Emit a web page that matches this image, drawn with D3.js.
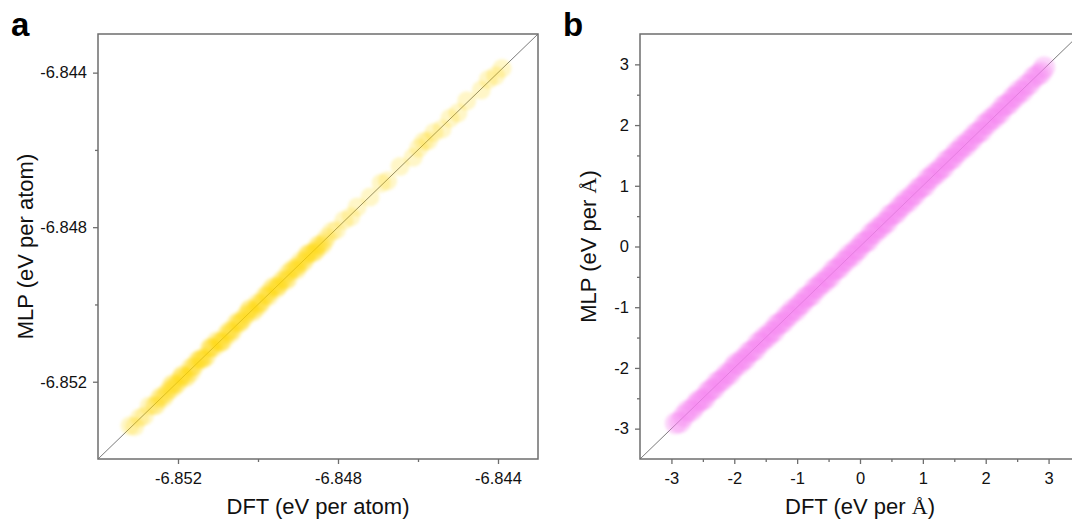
<!DOCTYPE html>
<html>
<head>
<meta charset="utf-8">
<script src="https://cdn.jsdelivr.net/npm/d3@7"></script>
<style>
  body { margin: 0; background: #fff; }
  svg { display: block; font-family: Arial, "Liberation Sans", sans-serif; }
</style>
</head>
<body>
<div id="chart"></div>
<script>
// panel a : energies (eV per atom)
let dftA = [-6.85320, -6.85308, -6.85296, -6.85284, -6.85272, -6.85260, -6.85248, -6.85236, -6.85224, -6.85212,
    -6.85200, -6.85188, -6.85176, -6.85164, -6.85152, -6.85140, -6.85128, -6.85116, -6.85104, -6.85092,
    -6.85080, -6.85068, -6.85056, -6.85044, -6.85032, -6.85020, -6.85008, -6.84996, -6.84984, -6.84972,
    -6.84960, -6.84948, -6.84936, -6.84924, -6.84912, -6.84900, -6.84888, -6.84876, -6.84864, -6.84852,
    -6.84840, -6.84828, -6.84816, -6.84804,
    -6.85214, -6.85190, -6.85166, -6.85142, -6.85118, -6.85094, -6.85070, -6.85046, -6.85022, -6.84998,
    -6.84974, -6.84950, -6.84926, -6.84902, -6.84878, -6.84854,
    -6.85254, -6.85242, -6.85230, -6.85218, -6.85206, -6.85194, -6.85182, -6.85170, -6.85158, -6.85146,
    -6.85134, -6.85122, -6.85110, -6.85098, -6.85086, -6.85074, -6.85062, -6.85050, -6.85038, -6.85026,
    -6.85014, -6.85002, -6.84990, -6.84978, -6.84966, -6.84954, -6.84942, -6.84930, -6.84918, -6.84906,
    -6.84894, -6.84882, -6.84870, -6.84858, -6.84846, -6.84834,
    -6.84785, -6.84768, -6.84752, -6.84720, -6.84692, -6.84676, -6.84645, -6.84612, -6.84598, -6.84586,
    -6.84574, -6.84560, -6.84540, -6.84520, -6.84500, -6.84478, -6.84442, -6.84424, -6.84406, -6.84390];
let mlpA = [-6.85314, -6.85316, -6.85293, -6.85289, -6.85263, -6.85262, -6.85244, -6.85243, -6.85223, -6.85204,
    -6.85204, -6.85183, -6.85185, -6.85162, -6.85145, -6.85143, -6.85134, -6.85112, -6.85094, -6.85097,
    -6.85079, -6.85076, -6.85050, -6.85046, -6.85029, -6.85011, -6.85014, -6.84997, -6.84979, -6.84979,
    -6.84952, -6.84952, -6.84934, -6.84933, -6.84906, -6.84899, -6.84893, -6.84869, -6.84867, -6.84848,
    -6.84848, -6.84826, -6.84811, -6.84807,
    -6.85218, -6.85183, -6.85175, -6.85139, -6.85110, -6.85100, -6.85068, -6.85049, -6.85013, -6.85005,
    -6.84969, -6.84952, -6.84920, -6.84910, -6.84874, -6.84859,
    -6.85261, -6.85237, -6.85232, -6.85210, -6.85210, -6.85191, -6.85191, -6.85164, -6.85159, -6.85142,
    -6.85140, -6.85113, -6.85113, -6.85096, -6.85094, -6.85069, -6.85067, -6.85043, -6.85040, -6.85023,
    -6.85021, -6.84996, -6.84994, -6.84977, -6.84958, -6.84960, -6.84939, -6.84939, -6.84913, -6.84907,
    -6.84887, -6.84885, -6.84866, -6.84864, -6.84844, -6.84838,
    -6.84782, -6.84773, -6.84748, -6.84722, -6.84686, -6.84680, -6.84643, -6.84619, -6.84595, -6.84578,
    -6.84576, -6.84555, -6.84546, -6.84518, -6.84504, -6.84473, -6.84445, -6.84418, -6.84408, -6.84389];

// panel b : forces (eV per A)
let dftB = [-2.93, -2.86, -2.8, -2.74, -2.68, -2.62, -2.57, -2.52, -2.47, -2.42, -2.37, -2.32, -2.27, -2.22, -2.17,
    -2.12, -2.07, -2.02, -1.97, -1.92, -1.87, -1.82, -1.77, -1.72, -1.67, -1.62, -1.57, -1.52, -1.47, -1.42,
    -1.37, -1.32, -1.27, -1.22, -1.17, -1.12, -1.07, -1.02, -0.97, -0.92, -0.87, -0.82, -0.77, -0.72, -0.67,
    -0.62, -0.57, -0.52, -0.47, -0.42, -0.37, -0.32, -0.27, -0.22, -0.17, -0.12, -0.07, -0.02, 0.03, 0.08,
    0.13, 0.18, 0.23, 0.28, 0.33, 0.38, 0.43, 0.48, 0.53, 0.58, 0.63, 0.68, 0.73, 0.78, 0.83,
    0.88, 0.93, 0.98, 1.03, 1.08, 1.13, 1.18, 1.23, 1.28, 1.33, 1.38, 1.43, 1.48, 1.53, 1.58,
    1.63, 1.68, 1.73, 1.78, 1.83, 1.88, 1.93, 1.98, 2.03, 2.08, 2.13, 2.18, 2.23, 2.28, 2.33,
    2.38, 2.43, 2.48, 2.53, 2.58, 2.64, 2.7, 2.76, 2.82, 2.88, 2.93];
let mlpB = [-2.91, -2.89, -2.79, -2.71, -2.7, -2.62, -2.55, -2.53, -2.5, -2.4, -2.36, -2.34, -2.24, -2.22, -2.18,
    -2.1, -2.1, -2.01, -1.93, -1.94, -1.86, -1.85, -1.75, -1.72, -1.7, -1.59, -1.58, -1.5, -1.49, -1.41,
    -1.4, -1.29, -1.27, -1.24, -1.15, -1.13, -1.04, -1.05, -0.96, -0.94, -0.85, -0.82, -0.8, -0.69, -0.68,
    -0.6, -0.59, -0.51, -0.5, -0.39, -0.37, -0.34, -0.25, -0.23, -0.14, -0.15, -0.06, -0.04, 0.05, 0.08,
    0.1, 0.21, 0.22, 0.3, 0.31, 0.39, 0.4, 0.51, 0.53, 0.56, 0.65, 0.67, 0.76, 0.75, 0.84,
    0.86, 0.95, 0.98, 1.0, 1.11, 1.12, 1.2, 1.21, 1.29, 1.3, 1.41, 1.43, 1.46, 1.55, 1.57,
    1.66, 1.65, 1.74, 1.76, 1.85, 1.88, 1.9, 2.01, 2.02, 2.1, 2.11, 2.19, 2.2, 2.31, 2.33,
    2.36, 2.45, 2.47, 2.56, 2.55, 2.65, 2.68, 2.78, 2.82, 2.86, 2.95];

let domainA = [-6.854, -6.843];
let majorA = [-6.852, -6.848, -6.844];
let minorA = [-6.850, -6.846];
let domainB = [-3.5, 3.5];
let majorB = [-3, -2, -1, 0, 1, 2, 3];
let minorB = [-2.5, -1.5, -0.5, 0.5, 1.5, 2.5];

let width = 1072;
let height = 525;
let svg = d3.select("#chart")
    .append("svg")
    .attr("width", width)
    .attr("height", height);

let defs = svg.append("defs");
defs.append("filter")
    .attr("id", "soft")
    .attr("x", "-20%").attr("y", "-20%")
    .attr("width", "140%").attr("height", "140%")
    .append("feGaussianBlur")
    .attr("stdDeviation", 1.4);

function drawPanel(opt) {
    let left = opt.left, top = 34, w = 440, h = 425;
    let x = d3.scaleLinear().domain(opt.domain).range([left, left + w]);
    let y = d3.scaleLinear().domain(opt.domain).range([top + h, top]);
    let g = svg.append("g");

    g.append("clipPath").attr("id", opt.id + "-clip")
        .append("rect")
        .attr("x", left).attr("y", top)
        .attr("width", w).attr("height", h);

    let plot = g.append("g").attr("clip-path", "url(#" + opt.id + "-clip)");

    // y = x reference line, under the points
    plot.append("line")
        .attr("x1", x(opt.domain[0])).attr("y1", y(opt.domain[0]))
        .attr("x2", x(opt.domain[1])).attr("y2", y(opt.domain[1]))
        .attr("stroke", "#7a7a7a")
        .attr("stroke-width", 1);

    plot.append("g")
        .attr("filter", "url(#soft)")
        .selectAll("circle")
        .data(opt.xs.map((d, i) => [d, opt.ys[i]]))
        .enter()
        .append("circle")
        .attr("cx", d => x(d[0]))
        .attr("cy", d => y(d[1]))
        .attr("r", opt.r)
        .attr("fill", opt.color)
        .attr("fill-opacity", opt.opacity);

    // frame
    g.append("rect")
        .attr("x", left).attr("y", top)
        .attr("width", w).attr("height", h)
        .attr("fill", "none")
        .attr("stroke", "#6e6e6e")
        .attr("stroke-width", 1.5);

    g.append("g")
        .attr("transform", "translate(0," + (top + h) + ")")
        .call(d3.axisBottom(x).tickValues(opt.major).tickSize(5).tickPadding(8).tickFormat(opt.fmt));
    g.append("g")
        .attr("transform", "translate(0," + (top + h) + ")")
        .call(d3.axisBottom(x).tickValues(opt.minor).tickSize(3).tickFormat(""));
    g.append("g")
        .attr("transform", "translate(" + left + ",0)")
        .call(d3.axisLeft(y).tickValues(opt.major).tickSize(5).tickPadding(6).tickFormat(opt.fmt));
    g.append("g")
        .attr("transform", "translate(" + left + ",0)")
        .call(d3.axisLeft(y).tickValues(opt.minor).tickSize(3).tickFormat(""));

    g.selectAll(".domain").remove();
    g.selectAll(".tick line").attr("stroke", "#6e6e6e").attr("stroke-width", 1.3);
    g.selectAll(".tick text")
        .attr("fill", "#111")
        .style("font-size", "16.5px")
        .style("font-family", "Arial, 'Liberation Sans', sans-serif");

    // axis titles
    let xt = g.append("text")
        .attr("x", left + w / 2)
        .attr("y", 514)
        .attr("text-anchor", "middle")
        .attr("fill", "#111")
        .style("font-size", "22px");
    xt.append("tspan").text("DFT (eV per ");
    opt.unit(xt);

    let yt = g.append("text")
        .attr("transform", "translate(" + opt.titleX + "," + (top + h / 2) + ") rotate(-90)")
        .attr("text-anchor", "middle")
        .attr("fill", "#111")
        .style("font-size", "22px");
    yt.append("tspan").text("MLP (eV per ");
    opt.unit(yt);

    g.append("text")
        .attr("x", opt.letterX)
        .attr("y", 36)
        .attr("fill", "#000")
        .style("font-size", "33px")
        .style("font-weight", "bold")
        .text(opt.letter);
}

drawPanel({
    id: "pa",
    left: 98,
    domain: domainA,
    major: majorA,
    minor: minorA,
    fmt: d => d.toFixed(3),
    xs: dftA,
    ys: mlpA,
    r: 9.5,
    color: "#ffd500",
    opacity: 0.22,
    titleX: 33,
    letterX: 11,
    letter: "a",
    unit: t => t.append("tspan").text("atom)")
});

drawPanel({
    id: "pb",
    left: 640,
    domain: domainB,
    major: majorB,
    minor: minorB,
    fmt: d => String(d),
    xs: dftB,
    ys: mlpB,
    r: 11,
    color: "#f77ff0",
    opacity: 0.33,
    titleX: 596,
    letterX: 563,
    letter: "b",
    unit: t => {
        t.append("tspan").style("font-family", "'Liberation Serif', 'Times New Roman', serif").text("Å");
        t.append("tspan").text(")");
    }
});
</script>
</body>
</html>
